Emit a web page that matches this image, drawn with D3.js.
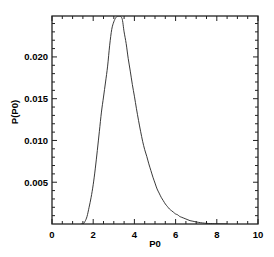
<!DOCTYPE html>
<html><head><meta charset="utf-8">
<script src="https://cdn.jsdelivr.net/npm/d3@7"></script>
<style>body{margin:0;background:#fff}svg text{font-family:"Liberation Sans",Arial,sans-serif;font-weight:bold;font-size:9.5px;fill:#000}</style>
</head><body><svg id="c" width="274" height="257"></svg>
<script>
const p0 = [1.4,1.5,1.6,1.7,1.8,1.9,2.0,2.1,2.2,2.3,2.4,2.5,2.6,2.7,2.8,2.9,3.0,3.1,3.2,3.3,3.4,3.5,3.6,3.7,3.8,3.9,4.0,4.1,4.2,4.3,4.4,4.5,4.6,4.7,4.8,4.9,5.0,5.1,5.2,5.3,5.4,5.5,5.6,5.7,5.8,5.9,6.0,6.1,6.2,6.3,6.4,6.5,6.6,6.7,6.8,6.9,7.0,7.1,7.2,7.3,7.4,7.5,7.6,7.7,7.8,7.9,8.0,8.2,8.5];
const prob = [0,0,0.0003,0.0009,0.0020,0.0032,0.0047,0.0066,0.0088,0.0111,0.0134,0.0152,0.0170,0.0189,0.0214,0.0233,0.0242,0.0247,0.0249,0.0249,0.0246,0.0230,0.0216,0.0198,0.0183,0.0167,0.0153,0.0138,0.0124,0.0111,0.0099,0.0089,0.0081,0.0072,0.0064,0.0056,0.0049,0.0042,0.0037,0.0032,0.0028,0.0024,0.0021,0.0018,0.0016,0.0014,0.0012,0.0011,0.0009,0.0008,0.0007,0.0006,0.0005,0.0004,0.00035,0.0003,0.00025,0.0002,0.00016,0.00013,0.0001,0.00008,0.00006,0.00005,0.00004,0.00003,0.00002,0.00001,0];
const xTickLabels = [0,2,4,6,8,10];
const yTickLabels = [0.005,0.010,0.015,0.020];
const xTitle = "P0", yTitle = "P(P0)";

const L=52,T=16,R=258,B=224;
const x=d3.scaleLinear().domain([0,10]).range([L,R]);
const y=d3.scaleLinear().domain([0,0.0249]).range([B,T]);
const svg=d3.select("#c");
svg.append("clipPath").attr("id","cp").append("rect").attr("x",L).attr("y",T).attr("width",R-L).attr("height",B-T);
const data=p0.map((v,i)=>[v,prob[i]]);
svg.append("path").datum(data).attr("clip-path","url(#cp)")
  .attr("d",d3.line().x(d=>x(d[0])).y(d=>y(d[1])).curve(d3.curveMonotoneX))
  .attr("fill","none").attr("stroke","#222").attr("stroke-width",0.9);

const xMinor=d3.range(0,10.01,0.5), yMinor=d3.range(0.001,0.0249,0.001);
const g=svg.append("g").attr("stroke","#222").attr("stroke-width",1);
const isMaj=(v,s)=>Math.abs(v/s-Math.round(v/s))<1e-6;
xMinor.forEach(v=>{const len=isMaj(v,2)?5:3;
  g.append("line").attr("x1",x(v)).attr("x2",x(v)).attr("y1",B).attr("y2",B-len);
  g.append("line").attr("x1",x(v)).attr("x2",x(v)).attr("y1",T).attr("y2",T+len);});
yMinor.forEach(v=>{const len=isMaj(v,0.005)?5:3;
  g.append("line").attr("y1",y(v)).attr("y2",y(v)).attr("x1",L).attr("x2",L+len);
  g.append("line").attr("y1",y(v)).attr("y2",y(v)).attr("x1",R).attr("x2",R-len);});
svg.append("rect").attr("x",L).attr("y",T).attr("width",R-L).attr("height",B-T)
  .attr("fill","none").attr("stroke","#222").attr("stroke-width",1.3);

svg.selectAll(".xl").data(xTickLabels).enter().append("text")
  .attr("x",d=>x(d)).attr("y",238).attr("text-anchor","middle").text(d=>d);
svg.selectAll(".yl").data(yTickLabels).enter().append("text")
  .attr("x",48).attr("y",d=>y(d)+3.4).attr("text-anchor","end").text(d=>d.toFixed(3));
svg.append("text").attr("x",155).attr("y",247).attr("text-anchor","middle").text(xTitle);
svg.append("text").attr("transform","translate(18,112) rotate(-90)").attr("text-anchor","middle").text(yTitle);
</script></body></html>
